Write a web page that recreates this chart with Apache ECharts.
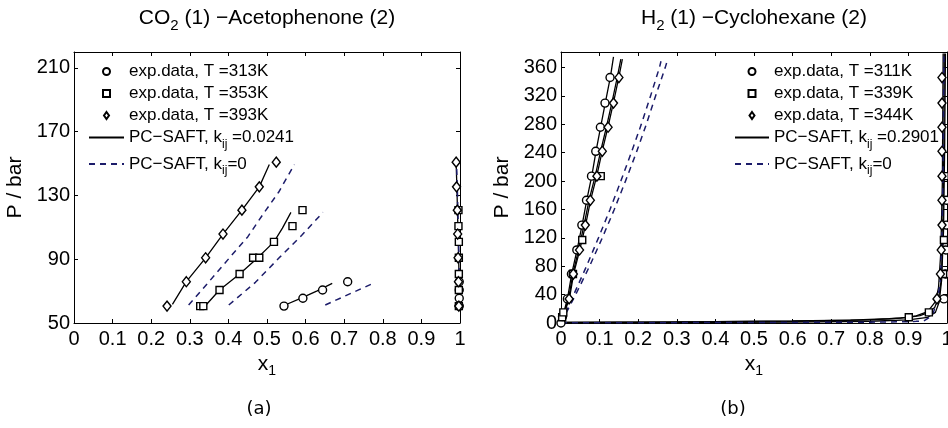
<!DOCTYPE html>
<html>
<head>
<meta charset="utf-8">
<script src="https://cdn.jsdelivr.net/npm/echarts@6/dist/echarts.min.js"></script>
<style>
html, body { margin: 0; padding: 0; background: #fff; }
#chart { width: 948px; height: 428px; }
</style>
</head>
<body>
<div id="chart"></div>
<script>
// ---- (a) CO2 (1) - Acetophenone (2) ----
var aXTicks = [0, 0.1, 0.2, 0.3, 0.4, 0.5, 0.6, 0.7, 0.8, 0.9, 1];
var aYTicks = [50, 90, 130, 170, 210];

// experimental points, liquid side
var a313LiqX = [0.544, 0.593, 0.644, 0.709];
var a313LiqP = [60.6, 65.5, 70.7, 75.9];
var a353LiqX = [0.327, 0.335, 0.377, 0.429, 0.464, 0.480, 0.518, 0.566, 0.592];
var a353LiqP = [60.6, 60.6, 70.7, 80.7, 90.9, 90.9, 100.9, 110.8, 120.8];
var a393LiqX = [0.241, 0.291, 0.341, 0.386, 0.435, 0.480, 0.524];
var a393LiqP = [60.6, 75.9, 90.9, 105.8, 120.8, 135.4, 150.9];
// experimental points, vapour side
var a313VapX = [0.998, 0.998, 0.998, 0.998];
var a313VapP = [60.6, 65.5, 70.7, 75.9];
var a353VapX = [0.997, 0.997, 0.997, 0.997, 0.997, 0.996, 0.996];
var a353VapP = [60.6, 70.7, 80.7, 90.9, 100.9, 110.8, 120.8];
var a393VapX = [0.997, 0.996, 0.995, 0.994, 0.993, 0.991, 0.990];
var a393VapP = [60.6, 75.9, 90.9, 105.8, 120.8, 135.4, 150.9];

// PC-SAFT, kij = 0.0241
var a313FitX = [0.547, 0.590, 0.630, 0.669];
var a313FitP = [61.3, 65.8, 70.2, 74.9];
var a353FitX = [0.342, 0.377, 0.429, 0.474, 0.518, 0.540, 0.562];
var a353FitP = [61.3, 70.7, 80.7, 90.5, 100.9, 109.5, 119.4];
var a393FitX = [0.255, 0.291, 0.341, 0.386, 0.435, 0.480, 0.506];
var a393FitP = [61.7, 75.9, 90.9, 105.8, 120.8, 135.4, 149.4];
var aVapFitX = [0.999, 0.998, 0.996, 0.994, 0.992, 0.990];
var aVapFitP = [60, 75, 95, 115, 135, 150];
// PC-SAFT, kij = 0
var a313K0X = [0.651, 0.710, 0.771];
var a313K0P = [61.3, 67.8, 74.4];
var a353K0X = [0.401, 0.470, 0.534, 0.590, 0.645];
var a353K0P = [61.3, 75.5, 91.5, 105.0, 119.4];
var a393K0X = [0.297, 0.350, 0.405, 0.450, 0.491, 0.530, 0.571];
var a393K0P = [61.3, 76.0, 91.5, 104.0, 118.7, 132.0, 149.4];
var aVapK0X = [0.999, 0.998, 0.997, 0.995, 0.993, 0.991];
var aVapK0P = [60, 75, 95, 115, 135, 150];

// ---- (b) H2 (1) - Cyclohexane (2) ----
var bXTicks = [0, 0.1, 0.2, 0.3, 0.4, 0.5, 0.6, 0.7, 0.8, 0.9, 1];
var bYTicks = [0, 40, 80, 120, 160, 200, 240, 280, 320, 360];

var b311LiqX = [0, 0.004, 0.0165, 0.027, 0.041, 0.054, 0.066, 0.079, 0.090, 0.102, 0.114, 0.127];
var b311LiqP = [0, 9, 34, 69, 103, 138, 173, 207, 242, 276, 310, 346];
var b339LiqX = [0.003, 0.006, 0.031, 0.055, 0.103];
var b339LiqP = [8, 15, 69, 117, 207];
var b344LiqX = [0.021, 0.032, 0.048, 0.063, 0.076, 0.093, 0.107, 0.122, 0.136, 0.150];
var b344LiqP = [34, 69, 103, 138, 173, 207, 242, 276, 310, 346];
var b311VapX = [0.992, 0.996, 0.997, 0.998, 0.998];
var b311VapP = [34, 69, 103, 138, 173];
var b339VapX = [0.901, 0.953, 0.990, 0.992, 0.994];
var b339VapP = [8, 15, 69, 117, 207];
var b344VapX = [0.974, 0.983, 0.985, 0.987, 0.987, 0.987, 0.987, 0.987, 0.987, 0.987];
var b344VapP = [34, 69, 103, 138, 173, 207, 242, 276, 310, 346];

// PC-SAFT, kij = 0.2901
var b311FitX = [0, 0.005, 0.017, 0.028, 0.042, 0.055, 0.067, 0.080, 0.091, 0.103, 0.115, 0.128, 0.136];
var b311FitP = [0.5, 10, 35, 70, 104, 139, 174, 208, 243, 277, 311, 347, 375];
var b339FitX = [0, 0.005, 0.020, 0.031, 0.046, 0.060, 0.073, 0.089, 0.103, 0.118, 0.132, 0.146, 0.155];
var b339FitP = [0.6, 10, 35, 70, 104, 139, 174, 208, 243, 277, 311, 347, 372];
var b344FitX = [0, 0.006, 0.022, 0.033, 0.049, 0.064, 0.077, 0.093, 0.107, 0.122, 0.136, 0.150, 0.159];
var b344FitP = [0.7, 10, 35, 70, 104, 139, 174, 208, 243, 277, 311, 347, 372];
var b311VapFitX = [0, 0.3, 0.6, 0.8, 0.9, 0.95, 0.97, 0.98, 0.986, 0.991, 0.994, 0.996];
var b311VapFitP = [0.2, 0.5, 1.2, 2.5, 4.5, 8, 15, 30, 60, 130, 250, 380];
var b339VapFitX = [0, 0.2, 0.4, 0.6, 0.75, 0.85, 0.9, 0.93, 0.953, 0.968, 0.978, 0.985, 0.989, 0.992, 0.993];
var b339VapFitP = [0.8, 1.2, 1.8, 2.8, 4, 6, 8, 10.5, 15, 22, 35, 60, 120, 250, 380];
var b344VapFitX = [0, 0.3, 0.6, 0.8, 0.88, 0.92, 0.95, 0.97, 0.978, 0.984, 0.988, 0.990];
var b344VapFitP = [1, 1.5, 2.5, 4.5, 7, 10, 16, 30, 50, 100, 200, 380];
// PC-SAFT, kij = 0
var bK0aX = [0, 0.033, 0.066, 0.097, 0.127, 0.155, 0.182, 0.208, 0.232, 0.255, 0.259];
var bK0bX = [0, 0.038, 0.074, 0.107, 0.138, 0.167, 0.195, 0.221, 0.245, 0.270, 0.275];
var bK0P = [0, 40, 80, 120, 160, 200, 240, 280, 320, 360, 369];
var bVapK0X = [0, 0.3, 0.6, 0.8, 0.9, 0.92, 0.94, 0.955, 0.965, 0.972, 0.978, 0.983, 0.987, 0.990, 0.992];
var bVapK0P = [0.3, 0.5, 0.8, 1.2, 1.8, 2.3, 3, 8, 15, 28, 42, 61, 120, 220, 380];

var FONT = 'Arial, "Liberation Sans", sans-serif';
var NAVY = '#1c1c6a';

// legend marker shapes (keep their aspect inside the wide legend slot)
var ICON_RECT = 'path://M0,0L10,0L10,10L0,10Z';
var ICON_DIAMOND = 'path://M5,0L10,7L5,14L0,7Z';

var chart = echarts.init(document.getElementById('chart'));

function pts(xs, ps) {
    return xs.map(function (x, i) { return [x, ps[i]]; });
}

function expSeries(name, sym, xs, ps, g) {
    var size = sym === 'diamond' ? [8, 10] : (sym === 'rect' ? 7 : 8);
    return {
        name: name, type: 'scatter', xAxisIndex: g * 2, yAxisIndex: g * 2,
        symbol: sym, symbolSize: size, z: 5, silent: true,
        itemStyle: { color: '#fff', borderColor: '#000', borderWidth: 1.4, opacity: 1 },
        data: pts(xs, ps)
    };
}

function fitSeries(name, xs, ps, g, dashed) {
    var col = dashed ? NAVY : '#000';
    return {
        name: name, type: 'line', xAxisIndex: g * 2, yAxisIndex: g * 2,
        symbol: 'none', showSymbol: false, z: 3, silent: true,
        lineStyle: { color: col, width: dashed ? 1.5 : 1.3, type: dashed ? [6, 5] : 'solid' },
        itemStyle: { color: col },
        data: pts(xs, ps)
    };
}

function xAxes(g) {
    var base = {
        gridIndex: g, type: 'value', min: 0, max: 1, interval: 0.1,
        splitLine: { show: false },
        axisLine: { show: true, onZero: false, lineStyle: { color: '#000', width: 1 } },
        axisTick: { show: true, inside: true, length: 4, lineStyle: { color: '#000' } }
    };
    var bottom = Object.assign({}, base, {
        position: 'bottom',
        name: 'x{sub|1}', nameLocation: 'middle', nameGap: 27,
        nameTextStyle: { fontSize: 21, color: '#000', fontFamily: FONT,
            rich: { sub: { fontSize: 14, color: '#000', fontFamily: FONT, padding: [14, 0, 0, 0] } } },
        axisLabel: { show: true, color: '#000', fontSize: 20, fontFamily: FONT, margin: 6,
            formatter: function (v) { return String(Math.round(v * 10) / 10); } }
    });
    var top = Object.assign({}, base, { position: 'top', axisLabel: { show: false } });
    return [bottom, top];
}

function yAxes(g, ticks, min, max) {
    var base = {
        gridIndex: g, type: 'value', min: min, max: max,
        splitLine: { show: false },
        axisLine: { show: true, onZero: false, lineStyle: { color: '#000', width: 1 } },
        axisTick: { show: true, inside: true, length: 4, customValues: ticks, lineStyle: { color: '#000' } }
    };
    var left = Object.assign({}, base, {
        position: 'left',
        name: 'P / bar', nameLocation: 'middle', nameGap: 48,
        nameTextStyle: { fontSize: 21, color: '#000', fontFamily: FONT },
        axisLabel: { show: true, color: '#000', fontSize: 20, fontFamily: FONT, margin: 4, customValues: ticks }
    });
    var right = Object.assign({}, base, { position: 'right', axisLabel: { show: false } });
    return [left, right];
}

function legendFormatter(name) {
    return name.replace('k_ij', 'k{sub|ij}');
}

var legendText = {
    fontSize: 17, color: '#000', fontFamily: FONT,
    rich: { sub: { fontSize: 12, color: '#000', fontFamily: FONT, padding: [14, 0, 0, 0] } }
};

var HIDE_DOT = { color: 'rgba(0,0,0,0)', borderColor: 'rgba(0,0,0,0)', borderWidth: 0 };

function legendData(n1, n2, n3, nf, nk) {
    return [
        { name: n1, icon: 'circle' },
        { name: n2, icon: ICON_RECT },
        { name: n3, icon: ICON_DIAMOND },
        { name: nf, itemStyle: HIDE_DOT },
        { name: nk, itemStyle: HIDE_DOT }
    ];
}

var A1 = 'exp.data, T =313K', A2 = 'exp.data, T =353K', A3 = 'exp.data, T =393K';
var AF = 'PC\u2212SAFT, k_ij =0.0241', K0 = 'PC\u2212SAFT, k_ij=0';
var B1 = 'exp.data, T =311K', B2 = 'exp.data, T =339K', B3 = 'exp.data, T =344K';
var BF = 'PC\u2212SAFT, k_ij =0.2901';

var series = [
    fitSeries(AF, a313FitX, a313FitP, 0, false),
    fitSeries(AF, a353FitX, a353FitP, 0, false),
    fitSeries(AF, a393FitX, a393FitP, 0, false),
    fitSeries(AF, aVapFitX, aVapFitP, 0, false),
    fitSeries(K0, a313K0X, a313K0P, 0, true),
    fitSeries(K0, a353K0X, a353K0P, 0, true),
    fitSeries(K0, a393K0X, a393K0P, 0, true),
    fitSeries(K0, aVapK0X, aVapK0P, 0, true),
    expSeries(A1, 'circle', a313LiqX, a313LiqP, 0),
    expSeries(A1, 'circle', a313VapX, a313VapP, 0),
    expSeries(A2, 'rect', a353LiqX, a353LiqP, 0),
    expSeries(A2, 'rect', a353VapX, a353VapP, 0),
    expSeries(A3, 'diamond', a393LiqX, a393LiqP, 0),
    expSeries(A3, 'diamond', a393VapX, a393VapP, 0),

    fitSeries(BF, b311FitX, b311FitP, 1, false),
    fitSeries(BF, b339FitX, b339FitP, 1, false),
    fitSeries(BF, b344FitX, b344FitP, 1, false),
    fitSeries(BF, b311VapFitX, b311VapFitP, 1, false),
    fitSeries(BF, b339VapFitX, b339VapFitP, 1, false),
    fitSeries(BF, b344VapFitX, b344VapFitP, 1, false),
    fitSeries(K0, bK0aX, bK0P, 1, true),
    fitSeries(K0, bK0bX, bK0P, 1, true),
    fitSeries(K0, bVapK0X, bVapK0P, 1, true),
    expSeries(B1, 'circle', b311LiqX, b311LiqP, 1),
    expSeries(B1, 'circle', b311VapX, b311VapP, 1),
    expSeries(B2, 'rect', b339LiqX, b339LiqP, 1),
    expSeries(B2, 'rect', b339VapX, b339VapP, 1),
    expSeries(B3, 'diamond', b344LiqX, b344LiqP, 1),
    expSeries(B3, 'diamond', b344VapX, b344VapP, 1)
];

var titleRich = { sub: { fontSize: 15, color: '#000', fontFamily: FONT, padding: [15, 0, 0, 0] } };

var option = {
    animation: false,
    backgroundColor: '#fff',
    title: [
        { text: 'CO{sub|2} (1) \u2212Acetophenone (2)', left: 267, top: 3, textAlign: 'center', padding: 0,
          textStyle: { fontSize: 21, fontWeight: 'normal', color: '#000', fontFamily: FONT, rich: titleRich } },
        { text: 'H{sub|2} (1) \u2212Cyclohexane (2)', left: 754, top: 3, textAlign: 'center', padding: 0,
          textStyle: { fontSize: 21, fontWeight: 'normal', color: '#000', fontFamily: FONT, rich: titleRich } },
        { text: '(a)', left: 259, top: 400, textAlign: 'center', padding: 0,
          textStyle: { fontSize: 18, fontWeight: 'normal', color: '#000', fontFamily: '"DejaVu Sans", sans-serif' } },
        { text: '(b)', left: 733, top: 400, textAlign: 'center', padding: 0,
          textStyle: { fontSize: 18, fontWeight: 'normal', color: '#000', fontFamily: '"DejaVu Sans", sans-serif' } }
    ],
    legend: [
        { data: legendData(A1, A2, A3, AF, K0), left: 88, top: 63, orient: 'vertical', padding: 0,
          itemWidth: 35, itemHeight: 7, itemGap: 5, selectedMode: false, symbolKeepAspect: true,
          formatter: legendFormatter, textStyle: legendText },
        { data: legendData(B1, B2, B3, BF, K0), left: 734, top: 63, orient: 'vertical', padding: 0,
          itemWidth: 34, itemHeight: 7, itemGap: 5, selectedMode: false, symbolKeepAspect: true,
          formatter: legendFormatter, textStyle: legendText }
    ],
    grid: [
        { left: 74, top: 52, width: 386, height: 271, containLabel: false, outerBoundsMode: 'none' },
        { left: 561, top: 52, width: 386, height: 271, containLabel: false, outerBoundsMode: 'none' }
    ],
    xAxis: xAxes(0).concat(xAxes(1)),
    yAxis: yAxes(0, aYTicks, 50, 220).concat(yAxes(1, bYTicks, 0, 382)),
    series: series
};

chart.setOption(option);
</script>
</body>
</html>
